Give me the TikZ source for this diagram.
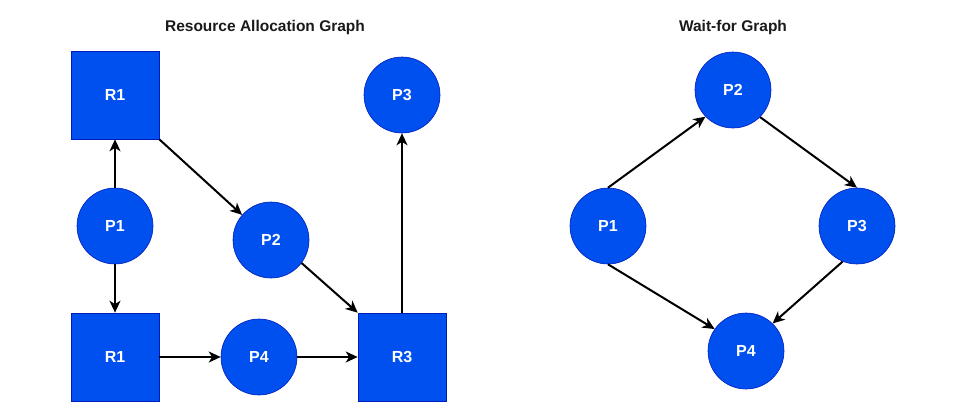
\documentclass[tikz,border=0pt]{standalone}
\usepackage{fontspec}
\setmainfont{Liberation Sans}
\usetikzlibrary{arrows.meta}
\definecolor{dfill}{HTML}{0050EF}
\definecolor{dline}{HTML}{001DBC}
\definecolor{ttl}{HTML}{1A1A1A}
\tikzset{
  res/.style={draw=dline, line width=0.6pt, fill=dfill, minimum width=88pt, minimum height=88pt, inner sep=0pt, text=white, font=\bfseries\fontsize{16}{18}\selectfont},
  proc/.style={circle, draw=dline, line width=0.6pt, fill=dfill, minimum size=76pt, inner sep=0pt, text=white, font=\bfseries\fontsize{16}{18}\selectfont},
  ttlnode/.style={text=ttl, font=\bfseries\fontsize{15.5}{18}\selectfont},
  conn/.style={line width=2pt, -{Stealth[length=12pt,width=11pt,inset=3.5pt]}}
}
\begin{document}
\begin{tikzpicture}[x=1pt,y=-1pt]
\useasboundingbox (0,0) rectangle (967,413);
% titles
\node[ttlnode] (t1) at (265,27) {Resource Allocation Graph};
\node[ttlnode] (t2) at (733,27) {Wait-for Graph};
% left graph
\node[res] (R1a) at (115,95) {R1};
\node[proc] (P1a) at (115,226) {P1};
\node[res] (R1b) at (115,357) {R1};
\node[proc] (P2a) at (271,240) {P2};
\node[proc] (P4a) at (259,357) {P4};
\node[res] (R3) at (402,357) {R3};
\node[proc] (P3a) at (402,95) {P3};
\draw[conn] (P1a.north) -- (R1a.south);
\draw[conn] (P1a.south) -- (R1b.north);
\draw[conn] (R1a.south east) -- (P2a.139);
\draw[conn] (R1b.east) -- (P4a.west);
\draw[conn] (P4a.east) -- (R3.west);
\draw[conn] (P2a.323) -- (R3.north west);
\draw[conn] (R3.north) -- (P3a.south);
% right graph
\node[proc] (P1b) at (608,226) {P1};
\node[proc] (P2b) at (733,90) {P2};
\node[proc] (P3b) at (857,226) {P3};
\node[proc] (P4b) at (746,351) {P4};
\draw[conn] (P1b.north) -- (P2b.224);
\draw[conn] (P2b.315) -- (P3b.north);
\draw[conn] (P1b.south) -- (P4b.145);
\draw[conn] (P3b.248) -- (P4b.46);
\end{tikzpicture}
\end{document}
